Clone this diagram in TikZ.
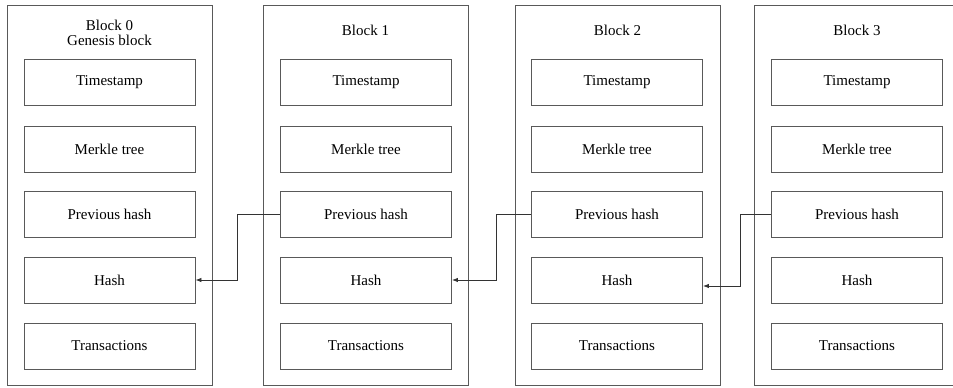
\documentclass[tikz,border=0pt]{standalone}
\usepackage{fontspec}
\setmainfont{Liberation Serif}
\usetikzlibrary{arrows.meta}

\tikzset{
	chainblock/.style={draw=black!65, line width=0.9pt, minimum width=205pt, minimum height=380pt},
	field/.style={draw=black!65, line width=0.9pt, minimum width=171pt, minimum height=46pt, font=\fontsize{15}{18}\selectfont},
	title/.style={font=\fontsize{15}{18}\selectfont, align=center},
	link/.style={draw=black!80, line width=0.8pt, -{Latex[length=6pt,width=4.5pt]}}
}

\begin{document}
\begin{tikzpicture}[x=1pt,y=-1pt]
	\useasboundingbox (0,0) rectangle (953,388);
	\clip (0,0) rectangle (953,388);
	% outer blocks
	\node[chainblock] (b0) at (109.5,195) {};
	\node[chainblock] (b1) at (365.5,195) {};
	\node[chainblock] (b2) at (617.5,195) {};
	\node[chainblock] (b3) at (857,195) {};
	\node[title] (t0) at (109.5,33) {Block 0\\[-3pt]Genesis block};
	\node[title] (t1) at (365.5,30) {Block 1};
	\node[title] (t2) at (617.5,30) {Block 2};
	\node[title] (t3) at (857,30) {Block 3};
	% block 0
	\node[field] (s0) at (109.5,82)  {Timestamp};
	\node[field] (m0) at (109.5,149) {Merkle tree};
	\node[field] (p0) at (109.5,214.5) {Previous hash};
	\node[field] (h0) at (109.5,280) {Hash};
	\node[field] (x0) at (109.5,346) {Transactions};
	% block 1
	\node[field] (s1) at (366,82)  {Timestamp};
	\node[field] (m1) at (366,149) {Merkle tree};
	\node[field] (p1) at (366,214.5) {Previous hash};
	\node[field] (h1) at (366,280) {Hash};
	\node[field] (x1) at (366,346) {Transactions};
	% block 2
	\node[field] (s2) at (617,82)  {Timestamp};
	\node[field] (m2) at (617,149) {Merkle tree};
	\node[field] (p2) at (617,214.5) {Previous hash};
	\node[field] (h2) at (617,280) {Hash};
	\node[field] (x2) at (617,346) {Transactions};
	% block 3
	\node[field] (s3) at (857,82)  {Timestamp};
	\node[field] (m3) at (857,149) {Merkle tree};
	\node[field] (p3) at (857,214.5) {Previous hash};
	\node[field] (h3) at (857,280) {Hash};
	\node[field] (x3) at (857,346) {Transactions};
	% previous hash -> hash of the block before
	\draw[link] (p1.west) -- ++(-43,0) |- (h0.east);
	\draw[link] (p2.west) -- ++(-35,0) |- (h1.east);
	\draw[link] ([yshift=0pt]p3.west) -- ++(-31,0) |- ([yshift=-6pt]h2.east);
\end{tikzpicture}
\end{document}
